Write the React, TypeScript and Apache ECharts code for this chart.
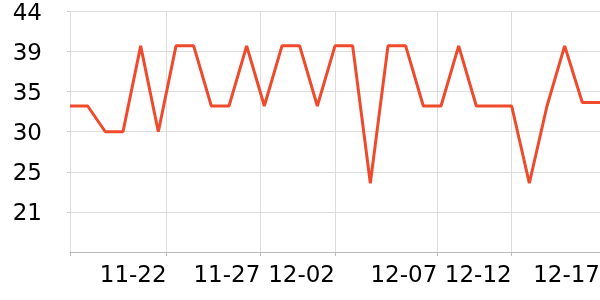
import React, { useEffect, useRef } from "react";
import * as echarts from "echarts";

// Series values, one per day-step along the x axis
const values: number[] = [
  33, 33, 30, 30, 40, 30, 40, 40, 33, 33, 40, 33, 40, 40, 33, 40,
  40, 24, 40, 40, 33, 33, 40, 33, 33, 33, 24, 33, 40, 33.4, 33.4,
];

// X-axis tick positions (in step units) and their labels
const tickValues: number[] = [0, 5.47, 10.77, 15, 20.79, 25, 30];
const tickLabels: string[] = ["", "11-22", "11-27", "12-02", "12-07", "12-12", "12-17"];

// Y-axis range
const yMin = 16;
const yMax = 44;
const ySteps = 6;

export default function App() {
  const ref = useRef<HTMLDivElement>(null);

  useEffect(() => {
    if (!ref.current) return;
    const chart = echarts.init(ref.current, undefined, { renderer: "svg" });
    const font = "DejaVu Sans";
    const labelFor = (v: number) => {
      let best = 0;
      let bd = Infinity;
      tickValues.forEach((t, i) => {
        const d = Math.abs(t - v);
        if (d < bd) {
          bd = d;
          best = i;
        }
      });
      return tickLabels[best];
    };
    chart.setOption({
      animation: false,
      grid: { left: 70, width: 530, top: 10.5, height: 241.5, containLabel: false },
      xAxis: {
        type: "value",
        min: 0,
        max: values.length - 1,
        axisLine: { show: true, lineStyle: { color: "#bbbbbb", width: 1 } },
        axisTick: {
          show: true,
          length: 4,
          customValues: tickValues,
          lineStyle: { color: "#bbbbbb" },
        },
        axisLabel: {
          customValues: tickValues.slice(1),
          formatter: (v: number) => labelFor(v),
          align: "right",
          fontSize: 23,
          fontFamily: font,
          color: "#000",
          margin: 10,
        },
        splitLine: { show: true, lineStyle: { color: "#dddddd", width: 1 } },
      },
      yAxis: {
        type: "value",
        min: yMin,
        max: yMax,
        interval: (yMax - yMin) / ySteps,
        axisLine: { show: true, lineStyle: { color: "#dddddd" } },
        axisTick: { show: true, length: 3, lineStyle: { color: "#cccccc" } },
        axisLabel: {
          showMinLabel: false,
          formatter: (v: number) => String(Math.round(v)),
          fontSize: 23,
          fontFamily: font,
          color: "#000",
          margin: 28,
        },
        splitLine: { show: true, lineStyle: { color: "#dddddd", width: 1 } },
      },
      series: [
        {
          type: "line",
          data: values.map((v, i) => [i, v]),
          symbol: "none",
          lineStyle: { color: "#ef4a2c", width: 3 },
          itemStyle: { color: "#ef4a2c" },
        },
      ],
    });
    return () => chart.dispose();
  }, []);

  return (
    <div
      ref={ref}
      style={{ position: "fixed", left: 0, top: 0, width: 603, height: 300 }}
    />
  );
}
